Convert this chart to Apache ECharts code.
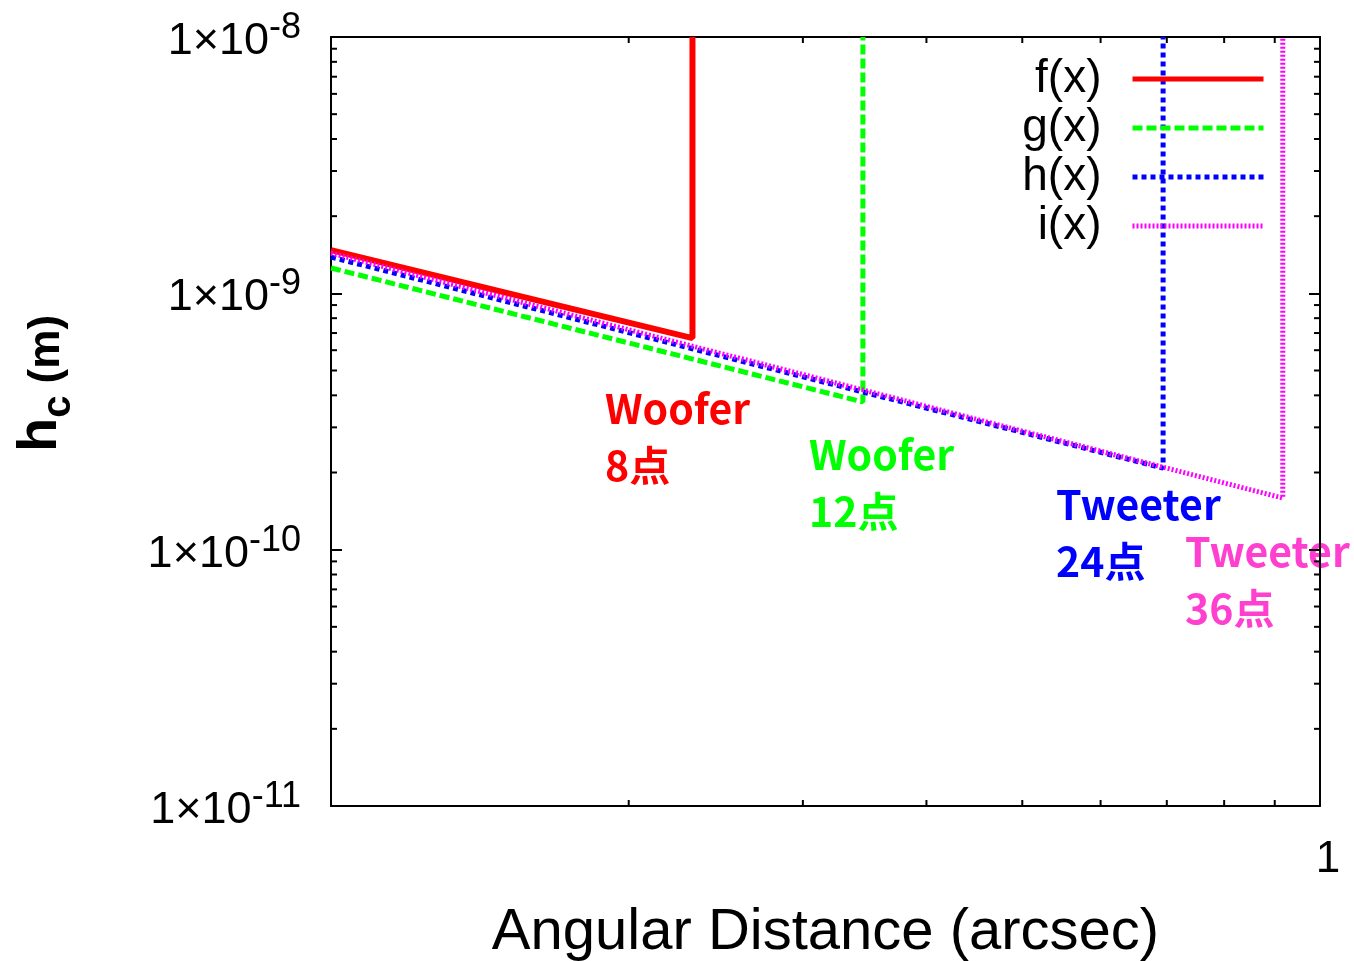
<!DOCTYPE html>
<html>
<head>
<meta charset="utf-8">
<script src="https://cdn.jsdelivr.net/npm/echarts@6/dist/echarts.min.js"></script>
<style>
  html, body { margin: 0; padding: 0; background: #fff; }
  #chart { width: 1354px; height: 961px; }
</style>
</head>
<body>
<div id="chart"></div>
<script>
// 図から読み取った値 (x: arcsec, y: m)
const fX = [0.1, 0.232, 0.232];
const fY = [1.475e-9, 6.69e-10, 1e-8];
const gX = [0.1, 0.345, 0.345];
const gY = [1.256e-9, 3.77e-10, 1e-8];
const hX = [0.1, 0.694, 0.694];
const hY = [1.385e-9, 2.08e-10, 1e-8];
const iX = [0.1, 0.917, 0.917];
const iY = [1.435e-9, 1.59e-10, 1e-8];

const seriesNames = ['f(x)', 'g(x)', 'h(x)', 'i(x)'];

// 軸の範囲と副目盛り
const X_MIN = 0.1, X_MAX = 1;
const Y_MIN = 1e-11, Y_MAX = 1e-8;
const minorX = [0.2, 0.3, 0.4, 0.5, 0.6, 0.7, 0.8, 0.9];
const minorMant = [2, 3, 4, 5, 6, 7, 8, 9];
const decades = [1e-11, 1e-10, 1e-9];
const minorY = [];
decades.forEach(d => minorMant.forEach(m => minorY.push(m * d)));

const FONT = '"Liberation Sans", Arial, sans-serif';
const JP = '"Noto Sans CJK JP", sans-serif';

function pairs(xs, ys) {
  return xs.map((x, k) => [x, ys[k]]);
}

function line(x1, y1, x2, y2) {
  return { type: 'line', shape: { x1, y1, x2, y2 }, style: { stroke: '#000', lineWidth: 2 } };
}

function xMinorTick(params, api) {
  const b = api.coord([api.value(0), Y_MIN]);
  const t = api.coord([api.value(0), Y_MAX]);
  return { type: 'group', children: [line(b[0], b[1], b[0], b[1] - 6), line(t[0], t[1], t[0], t[1] + 6)] };
}

function yMinorTick(params, api) {
  const l = api.coord([X_MIN, api.value(1)]);
  const r = api.coord([X_MAX, api.value(1)]);
  return { type: 'group', children: [line(l[0], l[1], l[0] + 6, l[1]), line(r[0], r[1], r[0] - 6, r[1])] };
}

const yLabelRich = {
  b: { fontSize: 45, fontFamily: FONT, color: '#000', verticalAlign: 'bottom' },
  s: { fontSize: 36, fontFamily: FONT, color: '#000', verticalAlign: 'top', padding: [0, 0, 18, 0] }
};

const chart = echarts.init(document.getElementById('chart'));
chart.setOption({
  animation: false,
  backgroundColor: '#fff',
  grid: { left: 331, right: 34, top: 37, bottom: 155, outerBoundsMode: 'none' },
  legend: {
    data: seriesNames,
    orient: 'vertical',
    align: 'right',
    right: 83,
    top: 51,
    itemWidth: 131,
    itemHeight: 14,
    itemGap: 3,
    itemStyle: { opacity: 0 },
    lineStyle: { width: 5 },
    textStyle: { fontSize: 46, fontFamily: FONT, color: '#000', padding: [0, 26, 0, 0], lineHeight: 46 }
  },
  xAxis: [
    {
      type: 'log', logBase: 10, min: X_MIN, max: X_MAX,
      name: 'Angular Distance (arcsec)', nameLocation: 'middle', nameGap: 98,
      nameTextStyle: { fontSize: 58, fontFamily: FONT, color: '#000' },
      axisLine: { lineStyle: { color: '#000', width: 2 } },
      axisTick: { inside: true, length: 11, lineStyle: { color: '#000', width: 2 } },
      axisLabel: {
        fontSize: 44, fontFamily: FONT, color: '#000', margin: 32, padding: [0, 0, 0, 16],
        formatter: v => (Math.abs(v - 1) < 1e-9 ? '1' : '')
      },
      splitLine: { show: false }
    },
    {
      type: 'log', logBase: 10, min: X_MIN, max: X_MAX, position: 'top',
      axisLine: { lineStyle: { color: '#000', width: 2 } },
      axisTick: { inside: true, length: 11, lineStyle: { color: '#000', width: 2 } },
      axisLabel: { show: false },
      splitLine: { show: false }
    }
  ],
  yAxis: [
    {
      type: 'log', logBase: 10, min: Y_MIN, max: Y_MAX,
      name: '{h|h}{c|c}{m| (m)}', nameLocation: 'middle', nameGap: 262,
      nameTextStyle: {
        padding: [0, 0, 0, 76],
        rich: {
          h: { fontSize: 56, fontWeight: 'bold', fontFamily: FONT, color: '#000', verticalAlign: 'bottom' },
          c: { fontSize: 40, fontWeight: 'bold', fontFamily: FONT, color: '#000', verticalAlign: 'bottom', padding: [0, 0, -10, 0] },
          m: { fontSize: 44, fontWeight: 'bold', fontFamily: FONT, color: '#000', verticalAlign: 'bottom' }
        }
      },
      axisLine: { lineStyle: { color: '#000', width: 2 } },
      axisTick: { inside: true, length: 11, lineStyle: { color: '#000', width: 2 } },
      axisLabel: {
        margin: 30,
        formatter: v => '{b|1×10}{s|' + Math.round(Math.log10(v)) + '}',
        rich: yLabelRich
      },
      splitLine: { show: false }
    },
    {
      type: 'log', logBase: 10, min: Y_MIN, max: Y_MAX, position: 'right',
      axisLine: { lineStyle: { color: '#000', width: 2 } },
      axisTick: { inside: true, length: 11, lineStyle: { color: '#000', width: 2 } },
      axisLabel: { show: false },
      splitLine: { show: false }
    }
  ],
  series: [
    {
      name: 'f(x)', type: 'line', symbol: 'none', data: pairs(fX, fY),
      lineStyle: { color: '#ff0000', width: 6, type: 'solid' }, itemStyle: { color: '#ff0000' }
    },
    {
      name: 'g(x)', type: 'line', symbol: 'none', data: pairs(gX, gY),
      lineStyle: { color: '#00ff00', width: 5, type: [10, 4] }, itemStyle: { color: '#00ff00' }
    },
    {
      name: 'h(x)', type: 'line', symbol: 'none', data: pairs(hX, hY),
      lineStyle: { color: '#0000ff', width: 5, type: [5, 4] }, itemStyle: { color: '#0000ff' }
    },
    {
      name: 'i(x)', type: 'line', symbol: 'none', data: pairs(iX, iY),
      lineStyle: { color: '#ff00ff', width: 5, type: [2, 2] }, itemStyle: { color: '#ff00ff' }
    },
    {
      type: 'custom', renderItem: xMinorTick, silent: true,
      data: minorX.map(v => [v, Y_MIN])
    },
    {
      type: 'custom', renderItem: yMinorTick, silent: true,
      data: minorY.map(v => [X_MIN, v])
    }
  ],
  graphic: [
    { type: 'text', left: 605, top: 380, style: { text: 'Woofer\n8点', fill: '#ff0000', font: 'bold 41px ' + JP, lineHeight: 57 } },
    { type: 'text', left: 809, top: 426, style: { text: 'Woofer\n12点', fill: '#00ff00', font: 'bold 41px ' + JP, lineHeight: 57 } },
    { type: 'text', left: 1056, top: 476, style: { text: 'Tweeter\n24点', fill: '#0000ff', font: 'bold 41px ' + JP, lineHeight: 57 } },
    { type: 'text', left: 1185, top: 523, style: { text: 'Tweeter\n36点', fill: '#ff3fcf', font: 'bold 41px ' + JP, lineHeight: 57 } }
  ]
});
</script>
</body>
</html>
